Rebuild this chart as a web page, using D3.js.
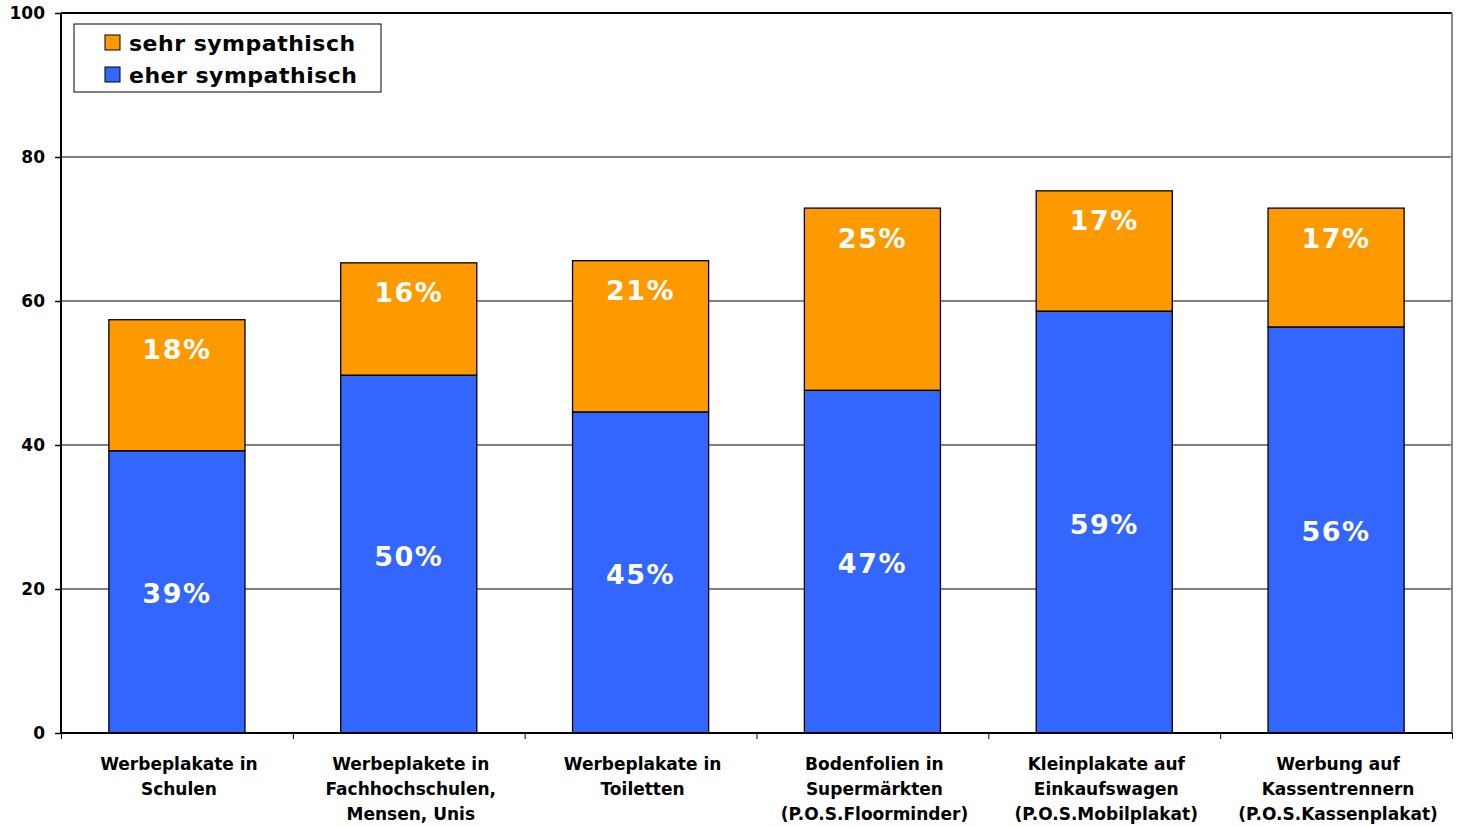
<!DOCTYPE html>
<html><head><meta charset="utf-8">
<script src="https://cdn.jsdelivr.net/npm/d3@7"></script>
<style>
html,body{margin:0;padding:0;background:#fff;}
svg text{font-family:"DejaVu Sans",Verdana,sans-serif;}
</style></head>
<body><svg id="c" width="1462" height="827"></svg>
<script>
const categories = [
  ["Werbeplakate in","Schulen"],
  ["Werbeplakete in","Fachhochschulen,","Mensen, Unis"],
  ["Werbeplakate in","Toiletten"],
  ["Bodenfolien in","Supermärkten","(P.O.S.Floorminder)"],
  ["Kleinplakate auf","Einkaufswagen","(P.O.S.Mobilplakat)"],
  ["Werbung auf","Kassentrennern","(P.O.S.Kassenplakat)"]
];
const eherValues = [39.2, 49.7, 44.6, 47.6, 58.6, 56.4];
const sehrValues = [18.2, 15.6, 21.0, 25.3, 16.7, 16.5];
const eherLabels = ["39%","50%","45%","47%","59%","56%"];
const sehrLabels = ["18%","16%","21%","25%","17%","17%"];
const yTicks = [0,20,40,60,80,100];
const seriesNames = ["sehr sympathisch","eher sympathisch"];
const colors = {sehr:"#FF9900", eher:"#3366FF"};

const svg = d3.select("#c");
const L=61, R=1452, T=13, B=733;
const x = d3.scaleBand().domain(d3.range(categories.length)).range([L,R]).paddingInner(0.413).paddingOuter(0.2065);
const y = d3.scaleLinear().domain([0,100]).range([B,T]);

// gridlines
svg.append("g").selectAll("line").data(yTicks.filter(d=>d>0&&d<100)).join("line")
  .attr("x1",L).attr("x2",R).attr("y1",d=>y(d)).attr("y2",d=>y(d))
  .attr("stroke","#000").attr("stroke-width",1);
// frame
svg.append("line").attr("x1",L).attr("x2",R).attr("y1",T).attr("y2",T).attr("stroke","#000").attr("stroke-width",2);
svg.append("line").attr("x1",R).attr("x2",R).attr("y1",T).attr("y2",B).attr("stroke","#888").attr("stroke-width",2);

// bars
const g = svg.append("g");
g.selectAll(".eher").data(eherValues).join("rect")
  .attr("x",(d,i)=>x(i)).attr("width",x.bandwidth())
  .attr("y",d=>y(d)).attr("height",d=>B-y(d))
  .attr("fill",colors.eher).attr("stroke","#000").attr("stroke-width",1.3);
g.selectAll(".sehr").data(sehrValues).join("rect")
  .attr("x",(d,i)=>x(i)).attr("width",x.bandwidth())
  .attr("y",(d,i)=>y(d+eherValues[i])).attr("height",(d,i)=>y(eherValues[i])-y(d+eherValues[i]))
  .attr("fill",colors.sehr).attr("stroke","#000").attr("stroke-width",1.3);

// value labels
const lblStyle = s=>s.attr("fill","#fff").attr("font-size",27).attr("font-weight","bold")
  .attr("text-anchor","middle").attr("letter-spacing",1.5).attr("dominant-baseline","central");
g.selectAll(".le").data(eherValues).join("text")
  .attr("x",(d,i)=>x(i)+x.bandwidth()/2).attr("y",d=>(y(d)+B)/2+2)
  .text((d,i)=>eherLabels[i]).call(lblStyle);
g.selectAll(".ls").data(sehrValues).join("text")
  .attr("x",(d,i)=>x(i)+x.bandwidth()/2).attr("y",(d,i)=>y(d+eherValues[i])+30)
  .text((d,i)=>sehrLabels[i]).call(lblStyle);

// y axis
const ya = svg.append("g").attr("transform",`translate(${L},0)`)
  .call(d3.axisLeft(y).tickValues(yTicks).tickSize(6).tickPadding(10));
ya.select(".domain").attr("stroke","#000").attr("stroke-width",2).attr("d",`M0,${T}V${B}`);
ya.selectAll("line").attr("stroke","#000").attr("stroke-width",1.5);
ya.selectAll("text").attr("font-size",17).attr("font-weight","bold").attr("fill","#000")
  .style("font-family","'DejaVu Sans',Verdana,sans-serif");

// x axis
const xb = d3.scaleLinear().domain([0,categories.length]).range([L,R]);
const xa = svg.append("g").attr("transform",`translate(0,${B})`)
  .call(d3.axisBottom(xb).tickValues(d3.range(categories.length+1)).tickSize(6).tickFormat(""));
xa.select(".domain").attr("stroke","#000").attr("stroke-width",2).attr("d",`M${L},0H${R}`);
xa.selectAll("line").attr("stroke","#000").attr("stroke-width",1);

// category labels
const cl = svg.append("g");
categories.forEach((lines,i)=>{
  const t = cl.append("text").attr("x",x(i)+x.bandwidth()/2+2).attr("y",770)
    .attr("text-anchor","middle").attr("font-size",17).attr("font-weight","bold").attr("fill","#000");
  lines.forEach((ln,j)=>t.append("tspan").attr("x",x(i)+x.bandwidth()/2+2).attr("dy",j?25:0).text(ln));
});

// legend
const lg = svg.append("g");
lg.append("rect").attr("x",74).attr("y",24).attr("width",307).attr("height",68)
  .attr("fill","#fff").attr("stroke","#000").attr("stroke-width",1);
seriesNames.forEach((n,i)=>{
  const yy = 43 + i*32;
  lg.append("rect").attr("x",105).attr("y",yy-8).attr("width",15).attr("height",15)
    .attr("fill",i===0?colors.sehr:colors.eher).attr("stroke","#000").attr("stroke-width",1);
  lg.append("text").attr("x",129).attr("y",yy).attr("dominant-baseline","central")
    .attr("font-size",22).attr("font-weight","bold").attr("letter-spacing",0.5).attr("fill","#000").text(n);
});
</script></body></html>
